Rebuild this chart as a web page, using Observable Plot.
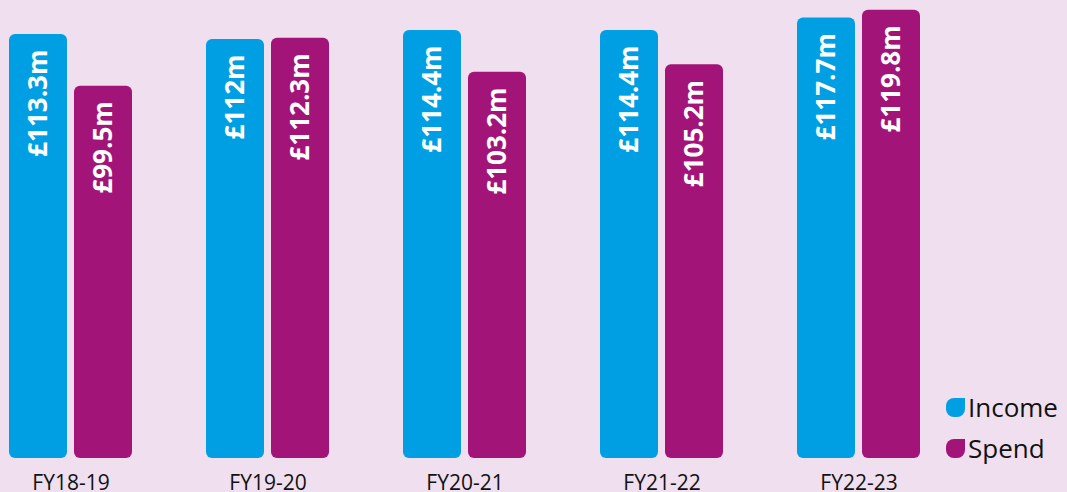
<!DOCTYPE html>
<html>
<head>
<meta charset="utf-8">
<script src="https://cdn.jsdelivr.net/npm/d3@7"></script>
<script src="https://cdn.jsdelivr.net/npm/@observablehq/plot@0.6"></script>
<style>
  html, body { margin: 0; padding: 0; background: #f0dfee; }
  #wrap { position: relative; width: 1067px; height: 492px; overflow: hidden; font-family: "Open Sans", sans-serif; }
  #legend { position: absolute; left: 946px; top: 387px; font-size: 26px; color: #111; line-height: 41px; }
  #legend .item { display: flex; align-items: center; height: 41px; }
  #legend svg { margin-right: 3px; }
  #chart g[aria-label*="fx-axis"], #chart g[aria-label*="fx-axis"] text { font-size: 21px; fill: #111; }
</style>
</head>
<body>
<div id="wrap"><div id="chart"></div><div id="legend"></div></div>
<script>
const years = ["FY18-19", "FY19-20", "FY20-21", "FY21-22", "FY22-23"];
const series = ["Income", "Spend"];
const income = [113.3, 112, 114.4, 114.4, 117.7];
const spend = [99.5, 112.3, 103.2, 105.2, 119.8];
const colors = ["#009fe3", "#a21478"];

const data = [];
years.forEach((y, i) => {
  data.push({year: y, series: "Income", value: income[i]});
  data.push({year: y, series: "Spend", value: spend[i]});
});
const fmt = v => "£" + v + "m";

const chart = Plot.plot({
  width: 1067,
  height: 492,
  marginTop: 0,
  marginBottom: 34,
  marginLeft: 8,
  marginRight: 146,
  style: {background: "transparent", fontFamily: "Open Sans, sans-serif"},
  fx: {domain: years, paddingInner: 0.366, paddingOuter: 0, axis: "bottom", label: null, tickSize: 0, tickPadding: 17},
  x: {domain: series, paddingInner: 0.106, paddingOuter: 0, axis: null},
  y: {domain: [0, 122.4], axis: null},
  color: {domain: series, range: colors},
  marks: [
    Plot.barY(data, {fx: "year", x: "series", y: "value", fill: "series", rx: 6, ry: 6}),
    Plot.text(data, {fx: "year", x: "series", y: "value", text: d => fmt(d.value), rotate: -90, textAnchor: "end", dy: 15, fill: "white", fontWeight: "bold", fontSize: 26})
  ]
});
document.getElementById("chart").appendChild(chart);

const legend = document.getElementById("legend");
series.forEach((s, i) => {
  const item = document.createElement("div");
  item.className = "item";
  item.innerHTML = `<svg width="19" height="19" viewBox="0 0 19 19"><path d="M8 0 H19 V11 A8 8 0 0 1 11 19 H8 A8 8 0 0 1 0 11 V8 A8 8 0 0 1 8 0 Z" fill="${colors[i]}"/></svg><span>${s}</span>`;
  legend.appendChild(item);
});
</script>
</body>
</html>
